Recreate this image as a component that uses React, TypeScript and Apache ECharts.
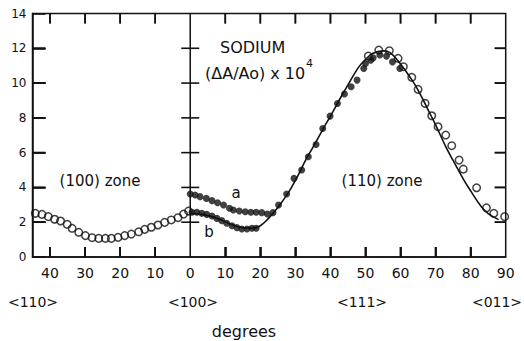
import React, { useEffect, useRef } from "react";
import * as echarts from "echarts";

// x < 0 : (100) zone (degrees measured leftwards), x >= 0 : (110) zone
const xTickValues = [-40, -30, -20, -10, 10, 20, 30, 40, 50, 60, 70, 80];
const xLabelValues = [-40, -30, -20, -10, 0, 10, 20, 30, 40, 50, 60, 70, 80, 90];
const yTickValues = [2, 4, 6, 8, 10, 12];

const theoryX = [0, 4, 8, 12, 15, 18, 20, 22, 25, 28, 30, 33, 35, 38, 40, 43, 45, 48, 50, 52, 55, 57, 60, 63, 65, 68, 70, 73, 75, 78, 80, 83, 85, 88];
const theoryY = [2.5, 2.42, 2.2, 1.85, 1.68, 1.66, 1.8, 2.15, 2.85, 3.7, 4.4, 5.6, 6.3, 7.4, 8.1, 9.2, 9.9, 10.9, 11.35, 11.7, 11.85, 11.75, 11.1, 10.25, 9.6, 8.4, 7.6, 6.3, 5.55, 4.45, 3.8, 2.9, 2.5, 2.15];

const openLeftX = [-44.2, -42.3, -40.5, -38.7, -37.0, -35.1, -33.7, -31.8, -29.9, -28.0, -26.1, -24.2, -22.5, -20.6, -18.7, -16.8, -14.7, -13.0, -11.1, -9.2, -7.3, -5.4, -3.5, -1.9, -0.5];
const openLeftY = [2.51, 2.45, 2.32, 2.17, 2.07, 1.88, 1.65, 1.42, 1.23, 1.11, 1.07, 1.07, 1.07, 1.13, 1.23, 1.32, 1.45, 1.59, 1.71, 1.84, 1.99, 2.13, 2.26, 2.47, 2.64];

const openRightX = [50.8, 53.8, 56.8, 59.3, 60.8, 63.2, 65.0, 67.0, 68.9, 70.7, 72.9, 74.6, 76.7, 77.9, 81.7, 84.5, 86.6, 89.7];
const openRightY = [11.55, 11.9, 11.86, 11.42, 10.94, 10.33, 9.64, 8.83, 8.12, 7.49, 7.01, 6.4, 5.57, 5.05, 3.98, 2.83, 2.51, 2.32];

const aX = [0, 1.4, 2.8, 4.6, 6.2, 7.8, 9.5, 11.2, 12.3, 14.0, 15.7, 17.3, 18.8, 20.4, 22.0, 23.6, 25.2, 27.5, 29.6, 31.8, 33.7, 35.9, 37.8, 39.9, 42.0, 44.0, 45.9, 47.6, 49.5, 50.0, 51.5, 52.2, 54.1, 56.0, 57.7, 59.8];
const aY = [3.62, 3.56, 3.47, 3.37, 3.24, 3.12, 2.99, 2.8, 2.7, 2.64, 2.6, 2.57, 2.57, 2.55, 2.47, 2.55, 2.99, 3.62, 4.52, 5.0, 5.76, 6.47, 7.39, 8.1, 8.83, 9.37, 9.79, 10.17, 10.84, 11.13, 11.32, 11.45, 11.61, 11.55, 11.22, 10.84];

const bX = [0.5, 1.9, 3.3, 4.7, 6.2, 7.6, 9.0, 10.4, 11.9, 13.3, 14.7, 16.2, 17.6, 18.8];
const bY = [2.57, 2.57, 2.51, 2.45, 2.36, 2.22, 2.09, 1.94, 1.8, 1.69, 1.61, 1.61, 1.65, 1.65];

const X_MIN = -45;
const X_MAX = 90;
const Y_MIN = 0;
const Y_MAX = 14;

const zip = (xs: number[], ys: number[]) => xs.map((x, i) => [x, ys[i]]);

const FONT = "DejaVu Sans";
const INK = "#111";

export default function App() {
  const ref = useRef<HTMLDivElement>(null);
  useEffect(() => {
    if (!ref.current) return;
    const chart = echarts.init(ref.current, undefined, { renderer: "svg" });
    const txt = (text: string, x: number, y: number, size: number, align = "center") => ({
      type: "text",
      x,
      y,
      z: 50,
      style: { text, fill: INK, font: `${size}px "${FONT}"`, textAlign: align, textVerticalAlign: "middle" },
    });
    const texts = [
      txt("SODIUM", 220, 47, 16, "left"),
      txt("(ΔA/Ao) x 10", 205, 73, 16, "left"),
      txt("4", 306, 63, 11, "left"),
      txt("(100) zone", 100, 181, 15),
      txt("(110) zone", 382, 181, 15),
      txt("a", 236, 193, 15),
      txt("b", 209, 232, 15),
      txt("<110>", 33, 302, 14),
      txt("<100>", 193, 302, 14),
      txt("<111>", 362, 302, 14),
      txt("<011>", 497, 302, 14),
      txt("degrees", 244, 331, 16),
    ];
    // tick marks drawn as thin rectangles placed through the axes' scales
    const tickSeries = (data: number[][], size: number[], offset: number[]) => ({
      type: "scatter",
      data,
      symbol: "rect",
      symbolSize: size,
      symbolOffset: offset,
      itemStyle: { color: INK, opacity: 1 },
      silent: true,
      clip: false,
      z: 10,
    });
    chart.setOption({
      animation: false,
      backgroundColor: "#fff",
      grid: {
        left: 32.5,
        right: 18.3,
        top: 13.5,
        bottom: 84,
        show: true,
        borderColor: INK,
        borderWidth: 1.5,
        backgroundColor: "transparent",
      },
      xAxis: {
        type: "value",
        min: X_MIN,
        max: X_MAX,
        axisLine: { show: true, onZero: false, lineStyle: { color: INK, width: 1.5 } },
        axisTick: { show: true, inside: true, length: 10, customValues: xTickValues, lineStyle: { color: INK, width: 1.6 } },
        axisLabel: {
          customValues: xLabelValues,
          formatter: (v: number) => String(Math.abs(v)),
          color: INK,
          fontFamily: FONT,
          fontSize: 14,
          margin: 9,
        },
        splitLine: { show: false },
      },
      yAxis: {
        type: "value",
        min: Y_MIN,
        max: Y_MAX,
        interval: 2,
        axisLine: { show: true, onZero: false, lineStyle: { color: INK, width: 1.5 } },
        axisTick: { show: true, inside: true, length: 13, lineStyle: { color: INK, width: 1.6 } },
        axisLabel: { color: INK, fontFamily: FONT, fontSize: 12, margin: 6 },
        splitLine: { show: false },
      },
      series: [
        tickSeries(xTickValues.map((v) => [v, Y_MIN]), [1.6, 10], [0, -5]),
        tickSeries(xTickValues.map((v) => [v, Y_MAX]), [1.6, 10], [0, 5]),
        tickSeries(yTickValues.map((v) => [X_MIN, v]), [13, 1.6], [6.5, 0]),
        tickSeries(yTickValues.map((v) => [X_MAX, v]), [11, 1.6], [-5.5, 0]),
        tickSeries(yTickValues.map((v) => [0, v]), [18, 1.6], [0, 0]),
        {
          // 0° divider between the (100) and (110) zones
          type: "line",
          data: [[0, Y_MIN], [0, Y_MAX]],
          symbol: "none",
          silent: true,
          lineStyle: { color: INK, width: 1.5 },
          z: 1,
        },
        {
          type: "scatter",
          data: zip(openLeftX, openLeftY),
          symbol: "circle",
          symbolSize: 7.5,
          itemStyle: { color: "rgba(255,255,255,0)", borderColor: INK, borderWidth: 1.5 },
        },
        {
          type: "scatter",
          data: zip(openRightX, openRightY),
          symbol: "circle",
          symbolSize: 7.5,
          itemStyle: { color: "rgba(255,255,255,0)", borderColor: INK, borderWidth: 1.5 },
        },
        {
          type: "scatter",
          data: zip(aX, aY),
          symbol: "circle",
          symbolSize: 7,
          itemStyle: { color: INK },
        },
        {
          type: "scatter",
          data: zip(bX, bY),
          symbol: "circle",
          symbolSize: 7,
          itemStyle: { color: INK },
        },
        {
          type: "line",
          data: zip(theoryX, theoryY),
          smooth: 0.4,
          symbol: "none",
          lineStyle: { color: INK, width: 1.6 },
          z: 3,
        },
      ],
      graphic: texts,
    });

    // Extra copy of the frame ticks as graphic lines, positioned via the chart's scales.
    const px = (x: number, y: number) => (chart.convertToPixel({ gridIndex: 0 }, [x, y]) as number[]).slice();
    const seg = (x1: number, y1: number, x2: number, y2: number) => ({
      type: "line",
      z: 100,
      silent: true,
      shape: { x1, y1, x2, y2 },
      style: { stroke: INK, lineWidth: 1.6 },
    });
    const lines: any[] = [];
    xTickValues.forEach((v) => {
      const b = px(v, Y_MIN);
      const t = px(v, Y_MAX);
      lines.push(seg(b[0], b[1], b[0], b[1] - 10));
      lines.push(seg(t[0], t[1], t[0], t[1] + 10));
    });
    yTickValues.forEach((v) => {
      const l = px(X_MIN, v);
      const r = px(X_MAX, v);
      lines.push(seg(l[0], l[1], l[0] + 13, l[1]));
      lines.push(seg(r[0], r[1], r[0] - 11, r[1]));
    });
    chart.setOption({ graphic: [...texts, ...lines] });

    return () => chart.dispose();
  }, []);
  return <div ref={ref} style={{ width: 524, height: 341, position: "absolute", left: 0, top: 0 }} />;
}
